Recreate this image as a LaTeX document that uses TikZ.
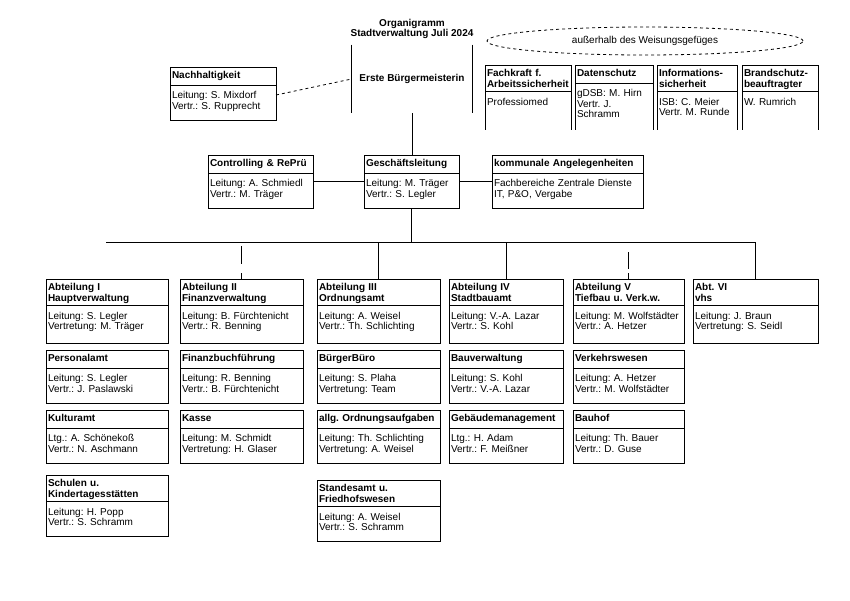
\documentclass[tikz,border=0pt]{standalone}
\usepackage{fontspec}
\setmainfont{Liberation Sans}
\usetikzlibrary{positioning, shapes.geometric}
\hyphenpenalty=10000
\frenchspacing

\begin{document}
\begin{tikzpicture}[
  x=1pt, y=-1pt,
  font=\fontsize{10}{10.5}\selectfont,
  line width=0.8pt,
  hd/.style={draw, anchor=north west, outer sep=0pt, inner xsep=2pt, inner ysep=3.5pt,
    text width=#1, align=left, font=\fontsize{10}{10.5}\selectfont\bfseries, text height=8pt, text depth=3pt},
  hdd/.style={hd=#1, text depth=11.5pt},
  bd/.style={draw, outer sep=0pt, inner xsep=2pt, inner ysep=3.5pt,
    text width=#1, align=left, text height=10pt, text depth=18pt},
  bdo/.style={bd=#1, draw=none},
  abtbd/.style={bd=#1, text depth=21pt},
]
\useasboundingbox (0,0) rectangle (850,600);

% --- Kopf: Buergermeisterin und Stabsstellen ---
\node[font=\fontsize{10}{10.5}\selectfont\bfseries, align=center] (title) at (412,29) {Organigramm\\Stadtverwaltung Juli 2024};
\node[minimum width=120pt, minimum height=68pt, font=\fontsize{10}{10.5}\selectfont\bfseries] (bgm) at (412,79) {Erste Bürgermeisterin};
\draw (bgm.north west) -- (bgm.south west) (bgm.north east) -- (bgm.south east);

\node[hd=102pt] (nachh) at (170,67) {Nachhaltigkeit};
\node[bd=102pt, below=0pt of nachh] (nachb) {Leitung: S. Mixdorf\\Vertr.: S. Rupprecht};

\node[ellipse, draw, dashed, minimum width=316pt, minimum height=28pt, inner sep=0pt] (weis) at (645,41) {außerhalb des Weisungsgefüges};
\coordinate (topbase) at (0,130);

\node[hdd=82pt] (fkh) at (485,65) {Fachkraft f.\\Arbeitssicherheit};
\node[bdo=82pt, below=0pt of fkh] (fkb) {Professiomed};
\node[hd=74pt] (dsh) at (575,65) {Datenschutz};
\node[bdo=74pt, below=0pt of dsh] (dsb) {gDSB: M. Hirn\\Vertr. J.\\Schramm};
\node[hdd=76pt] (isech) at (657,65) {Informations-\\sicherheit};
\node[bdo=76pt, below=0pt of isech] (isecb) {ISB: C. Meier\\Vertr. M. Runde};
\node[hdd=72pt] (brandh) at (742,65) {Brandschutz-\\beauftragter};
\node[bdo=72pt, below=0pt of brandh] (brandb) {W. Rumrich};

\foreach \s in {fkh, dsh, isech, brandh}
  \draw (\s.south west) -- (\s.south west |- topbase) (\s.south east) -- (\s.south east |- topbase);

% --- Geschaeftsleitung ---
\node[hd=101pt] (ctrlh) at (208,155) {Controlling \& RePrü};
\node[bd=101pt, below=0pt of ctrlh] (ctrlb) {Leitung: A. Schmiedl\\Vertr.: M. Träger};
\node[hd=91pt] (glh) at (364,155) {Geschäftsleitung};
\node[bd=91pt, below=0pt of glh] (glb) {Leitung: M. Träger\\Vertr.: S. Legler};
\node[hd=147pt] (kommh) at (492,155) {kommunale Angelegenheiten};
\node[bd=147pt, below=0pt of kommh] (kommb) {Fachbereiche Zentrale Dienste\\IT, P\&O, Vergabe};

% --- Abteilung I ---
\node[hdd=118pt] (abt1h) at (46,279) {Abteilung I\\Hauptverwaltung};
\node[abtbd=118pt, below=0pt of abt1h] (abt1b) {Leitung: S. Legler\\Vertretung: M. Träger};
\node[hd=118pt] (persh) at (46,350) {Personalamt};
\node[bd=118pt, below=0pt of persh] (persb) {Leitung: S. Legler\\Vertr.: J. Paslawski};
\node[hd=118pt] (kulth) at (46,410) {Kulturamt};
\node[bd=118pt, below=0pt of kulth] (kultb) {Ltg.: A. Schönekoß\\Vertr.: N. Aschmann};
\node[hdd=118pt] (schulh) at (46,475) {Schulen u.\\Kindertagesstätten};
\node[bd=118pt, below=0pt of schulh] (schulb) {Leitung: H. Popp\\Vertr.: S. Schramm};

% --- Abteilung II ---
\node[hdd=119pt] (abt2h) at (180,279) {Abteilung II\\Finanzverwaltung};
\node[abtbd=119pt, below=0pt of abt2h] (abt2b) {Leitung: B. Fürchtenicht\\Vertr.: R. Benning};
\node[hd=119pt] (fibuh) at (180,350) {Finanzbuchführung};
\node[bd=119pt, below=0pt of fibuh] (fibub) {Leitung: R. Benning\\Vertr.: B. Fürchtenicht};
\node[hd=119pt] (kasseh) at (180,410) {Kasse};
\node[bd=119pt, below=0pt of kasseh] (kasseb) {Leitung: M. Schmidt\\Vertretung: H. Glaser};

% --- Abteilung III ---
\node[hdd=119pt] (abt3h) at (317,279) {Abteilung III\\Ordnungsamt};
\node[abtbd=119pt, below=0pt of abt3h] (abt3b) {Leitung: A. Weisel\\Vertr.: Th. Schlichting};
\node[hd=119pt] (bueroh) at (317,350) {BürgerBüro};
\node[bd=119pt, below=0pt of bueroh] (buerob) {Leitung: S. Plaha\\Vertretung: Team};
\node[hd=119pt] (allgh) at (317,410) {allg. Ordnungsaufgaben};
\node[bd=119pt, below=0pt of allgh] (allgb) {Leitung: Th. Schlichting\\Vertretung: A. Weisel};
\node[hdd=119pt] (standh) at (317,480) {Standesamt u.\\Friedhofswesen};
\node[bd=119pt, below=0pt of standh] (standb) {Leitung: A. Weisel\\Vertr.: S. Schramm};

% --- Abteilung IV ---
\node[hdd=110pt] (abt4h) at (449,279) {Abteilung IV\\Stadtbauamt};
\node[abtbd=110pt, below=0pt of abt4h] (abt4b) {Leitung: V.-A. Lazar\\Vertr.: S. Kohl};
\node[hd=110pt] (bauvh) at (449,350) {Bauverwaltung};
\node[bd=110pt, below=0pt of bauvh] (bauvb) {Leitung: S. Kohl\\Vertr.: V.-A. Lazar};
\node[hd=110pt] (gebh) at (449,410) {Gebäudemanagement};
\node[bd=110pt, below=0pt of gebh] (gebb) {Ltg.: H. Adam\\Vertr.: F. Meißner};

% --- Abteilung V ---
\node[hdd=107pt] (abt5h) at (573,279) {Abteilung V\\Tiefbau u. Verk.w.};
\node[abtbd=107pt, below=0pt of abt5h] (abt5b) {Leitung: M. Wolfstädter\\Vertr.: A. Hetzer};
\node[hd=107pt] (verkh) at (573,350) {Verkehrswesen};
\node[bd=107pt, below=0pt of verkh] (verkb) {Leitung: A. Hetzer\\Vertr.: M. Wolfstädter};
\node[hd=107pt] (bauhofh) at (573,410) {Bauhof};
\node[bd=107pt, below=0pt of bauhofh] (bauhofb) {Leitung: Th. Bauer\\Vertr.: D. Guse};

% --- Abteilung VI ---
\node[hdd=121pt] (abt6h) at (693,279) {Abt. VI\\vhs};
\node[abtbd=121pt, below=0pt of abt6h] (abt6b) {Leitung: J. Braun\\Vertretung: S. Seidl};

% --- Verbindungen ---
\coordinate (barl) at (106,242);
\coordinate (barr) at (756,242);
\draw[dashed] ([yshift=-10pt]nachb.north east) -- (bgm.west);
\draw (bgm.south) -- (bgm.south |- glh.north);
\draw ([yshift=-8pt]ctrlb.north east) -- ([yshift=-8pt]glb.north west);
\draw ([yshift=-8pt]glb.north east) -- ([yshift=-8pt]kommb.north west);
\draw (glb.south) -- (glb.south |- barl);
\draw (barl) -- (barr);
\draw (abt3h.north |- barl) -- (abt3h.north);
\draw (abt4h.north |- barl) -- (abt4h.north);
\draw (abt6h.north |- barl) -- (abt6h.north);
\draw ([yshift=-4pt]abt2h.north |- barl) -- ([yshift=-22pt]abt2h.north |- barl) ([yshift=6pt]abt2h.north) -- (abt2h.north);
\draw ([yshift=-10pt]abt5h.north |- barl) -- ([yshift=-27pt]abt5h.north |- barl) ([yshift=6pt]abt5h.north) -- (abt5h.north);

\end{tikzpicture}
\end{document}
